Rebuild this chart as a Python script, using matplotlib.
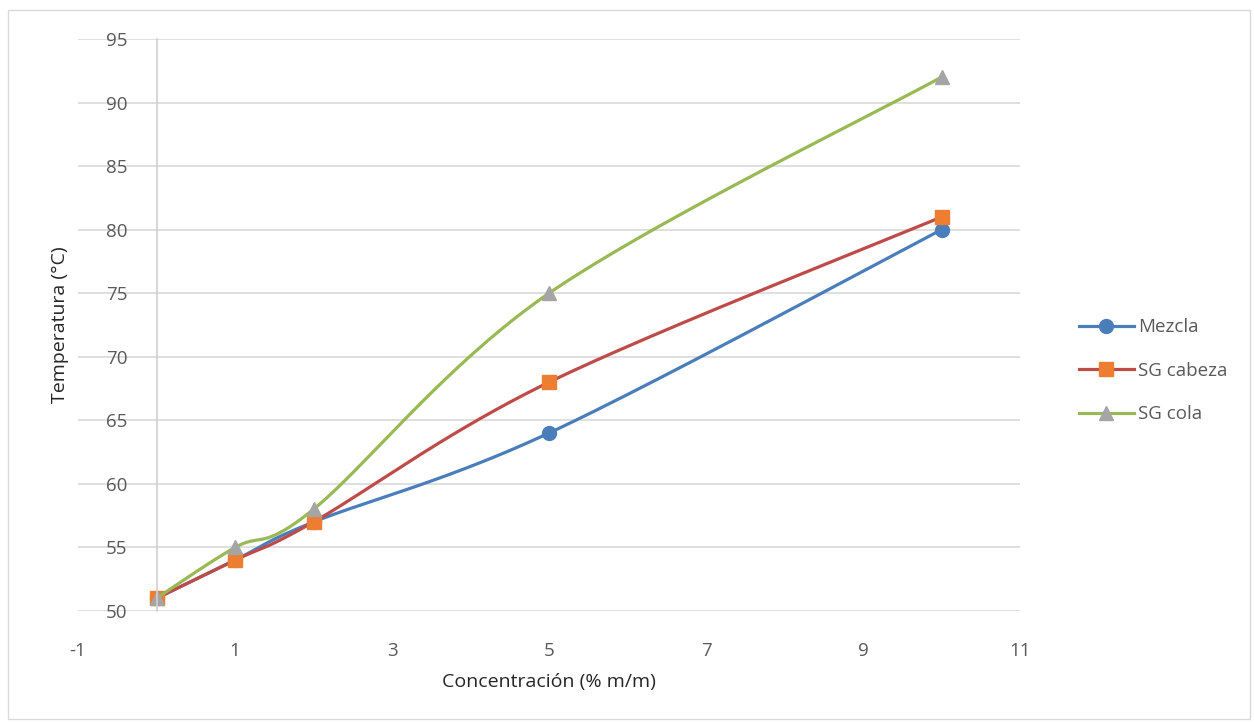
import numpy as np
import matplotlib
matplotlib.use('Agg')
from matplotlib import pyplot as plt
from matplotlib.patches import Rectangle

# concentration (% m/m) vs temperature (°C)
conc = [0, 1, 2, 5, 10]
mezcla = [51, 54, 57, 64, 80]
sg_cabeza = [51, 54, 57, 68, 81]
sg_cola = [51, 55, 58, 75, 92]

x_ticks = [-1, 1, 3, 5, 7, 9, 11]
y_ticks = [50, 55, 60, 65, 70, 75, 80, 85, 90, 95]

plt.rcParams['font.family'] = ['Open Sans', 'DejaVu Sans']
plt.rcParams['axes.unicode_minus'] = False


def smooth(xs, ys, sx, sy, n=40):
    # bezier curve through the points, control points from neighbours (1/6 rule)
    p = np.column_stack([np.array(xs, float) * sx, np.array(ys, float) * sy])
    p = np.vstack([p[0], p, p[-1]])
    out = []
    for i in range(1, len(p) - 2):
        p0 = p[i]
        p3 = p[i + 1]
        c1 = p0 + (p[i + 1] - p[i - 1]) / 6.0
        c2 = p3 - (p[i + 2] - p[i]) / 6.0
        t = np.linspace(0, 1, n)[:, None]
        seg = (1 - t) ** 3 * p0 + 3 * (1 - t) ** 2 * t * c1 + 3 * (1 - t) * t ** 2 * c2 + t ** 3 * p3
        out.append(seg)
    out = np.vstack(out)
    return out[:, 0] / sx, out[:, 1] / sy


fig = plt.figure(figsize=(12.54, 7.23), dpi=100)
fig.patches.append(Rectangle((8 / 1254, 1 - 719 / 723), 1242 / 1254, 709 / 723,
                             transform=fig.transFigure, fill=False,
                             edgecolor='#D9D9D9', linewidth=1))
ax = fig.add_axes([78 / 1254, 1 - 611 / 723, 942 / 1254, 572 / 723])

# pixels per data unit, used so the smoothing happens in screen proportions
sx = 942 / 12.0
sy = 572 / 45.0

series = [
    ('Mezcla', mezcla, '#4A7EBB', '#4A7EBB', 'o', 10),
    ('SG cabeza', sg_cabeza, '#BE4B48', '#ED7D31', 's', 9.5),
    ('SG cola', sg_cola, '#98B954', '#A5A5A5', '^', 10),
]
for name, vals, lc, mc, mk, ms in series:
    xs, ys = smooth(conc, vals, sx, sy)
    ax.plot(xs, ys, color=lc, linewidth=2.3, solid_capstyle='round')
    ax.plot(conc, vals, linestyle='none', marker=mk, markersize=ms,
            markerfacecolor=mc, markeredgecolor=mc)
    ax.plot([], [], color=lc, linewidth=2.3, marker=mk, markersize=ms,
            markerfacecolor=mc, markeredgecolor=mc, label=name)

ax.set_xlim(-1, 11)
ax.set_ylim(50, 95)
ax.set_xticks(x_ticks)
ax.set_yticks(y_ticks)
ax.grid(axis='y', color='#D9D9D9', linewidth=1.2)
ax.set_axisbelow(True)
for s in ['top', 'right', 'bottom']:
    ax.spines[s].set_visible(False)
ax.spines['left'].set_position(('data', 0))
ax.spines['left'].set_color('#D0D0D0')
ax.spines['left'].set_linewidth(1.2)
ax.tick_params(axis='both', length=0, labelsize=13.5, labelcolor='#595959')
ax.tick_params(axis='y', pad=21)
ax.tick_params(axis='x', pad=22)

ax.set_xlabel('Concentración (% m/m)', fontsize=14, color='#262626', labelpad=10)
fig.text(60 / 1254, 1 - 325 / 723, 'Temperatura (°C)', rotation=90, fontsize=14,
         color='#262626', ha='center', va='center')

leg = ax.legend(loc='center left', bbox_to_anchor=(1.045, 0.42), frameon=False,
                fontsize=13.5, handlelength=2.9, labelspacing=1.35, handletextpad=0.25,
                labelcolor='#595959')

fig.savefig('out.png', dpi=100)
